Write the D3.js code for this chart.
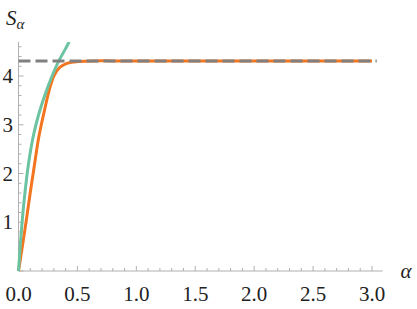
<!DOCTYPE html>
<html><head><meta charset="utf-8">
<script src="https://cdn.jsdelivr.net/npm/d3@7"></script>
<style>body{margin:0;background:#fff}svg{display:block}</style>
</head><body>
<script>
const xTicks = [0, 0.5, 1.0, 1.5, 2.0, 2.5, 3.0];
const xTickLabels = ["0.0","0.5","1.0","1.5","2.0","2.5","3.0"];
const yTicks = [1, 2, 3, 4];
const yTickLabels = ["1","2","3","4"];
const limitValue = 4.31;
const orangeX = [0, 0.054, 0.103, 0.14, 0.17, 0.221, 0.263, 0.30, 0.347, 0.40, 0.45, 0.50, 0.56, 0.65, 0.8, 1.0, 1.5, 2.0, 2.5, 3.0];
const orangeY = [0, 0.84, 1.66, 2.25, 2.72, 3.30, 3.73, 4.0, 4.17, 4.25, 4.28, 4.295, 4.305, 4.31, 4.31, 4.31, 4.31, 4.31, 4.31, 4.31];
const greenX = [0, 0.025, 0.05, 0.085, 0.124, 0.17, 0.23, 0.29, 0.34, 0.39, 0.43];
const greenY = [0, 0.84, 1.5, 2.2, 2.75, 3.2, 3.65, 4.03, 4.3, 4.52, 4.70];

const W = 417, H = 309;
const svg = d3.select("body").append("svg").attr("width", W).attr("height", H);
const x = d3.scaleLinear().domain([0, 3]).range([18.5, 372]);
const y = d3.scaleLinear().domain([0, 4]).range([271, 76]);
const xMax = 3.09, yMax = 4.7;
const axisColor = "#b0b0b0";
const FONT = "'Liberation Serif', 'Times New Roman', serif";

svg.append("defs").append("clipPath").attr("id","clip").append("rect")
  .attr("x", x(0)-3).attr("y", y(yMax)).attr("width", x(xMax)-x(0)+6).attr("height", y(0)-y(yMax)+3);

// x axis
const gx = svg.append("g");
gx.append("line").attr("x1", x(0)).attr("x2", x(xMax)).attr("y1", y(0)).attr("y2", y(0)).attr("stroke", axisColor).attr("stroke-width",1);
const xMinor = d3.range(0, 31).map(i => i/10).filter(v => v <= xMax);
gx.selectAll(".xt").data(xMinor).join("line")
  .attr("x1", d => x(d)).attr("x2", d => x(d))
  .attr("y1", y(0)).attr("y2", d => y(0) - (Math.abs(d*2 - Math.round(d*2)) < 1e-6 ? 5 : 3))
  .attr("stroke", axisColor).attr("stroke-width",1);
gx.selectAll(".xl").data(xTicks).join("text")
  .attr("x", d => x(d)).attr("y", 301).attr("text-anchor","middle")
  .style("font-family", FONT).style("font-size", "21px").attr("fill","#222")
  .text((d,i) => xTickLabels[i]);
svg.append("text").attr("x", 406).attr("y", 278).attr("text-anchor","middle")
  .style("font-family", FONT).style("font-style","italic").style("font-size","21px").attr("fill","#222").text("α");

// y axis
const gy = svg.append("g");
gy.append("line").attr("x1", x(0)).attr("x2", x(0)).attr("y1", y(0)).attr("y2", y(yMax)).attr("stroke", axisColor).attr("stroke-width",1);
const yMinor = d3.range(0, 24).map(i => i/5).filter(v => v <= yMax);
gy.selectAll(".yt").data(yMinor).join("line")
  .attr("y1", d => y(d)).attr("y2", d => y(d))
  .attr("x1", x(0)).attr("x2", d => x(0) + (Math.abs(d - Math.round(d)) < 1e-6 ? 5 : 3))
  .attr("stroke", axisColor).attr("stroke-width",1);
gy.selectAll(".yl").data(yTicks).join("text")
  .attr("x", 13).attr("y", d => y(d) + 7).attr("text-anchor","end")
  .style("font-family", FONT).style("font-size", "21px").attr("fill","#222")
  .text((d,i) => yTickLabels[i]);
const yl = svg.append("text").attr("x", 6).attr("y", 25)
  .style("font-family", FONT).style("font-style","italic").attr("fill","#222");
yl.append("tspan").style("font-size","21px").text("S");
yl.append("tspan").style("font-size","15px").attr("dy",4).text("α");

// curves
const plot = svg.append("g").attr("clip-path","url(#clip)");
const line = d3.line().x(d => x(d[0])).y(d => y(d[1])).curve(d3.curveCatmullRom.alpha(0.5));
plot.append("path").datum(d3.zip(orangeX, orangeY)).attr("d", line)
  .attr("fill","none").attr("stroke","#f4751f").attr("stroke-width",3);
plot.append("path").datum(d3.zip(greenX, greenY)).attr("d", line)
  .attr("fill","none").attr("stroke","#6cc3a2").attr("stroke-width",3);
plot.append("line").attr("x1", x(0)).attr("x2", x(3.04)).attr("y1", y(limitValue)).attr("y2", y(limitValue))
  .attr("stroke","#808080").attr("stroke-width",3).attr("stroke-dasharray","12,5");
</script>
</body></html>
